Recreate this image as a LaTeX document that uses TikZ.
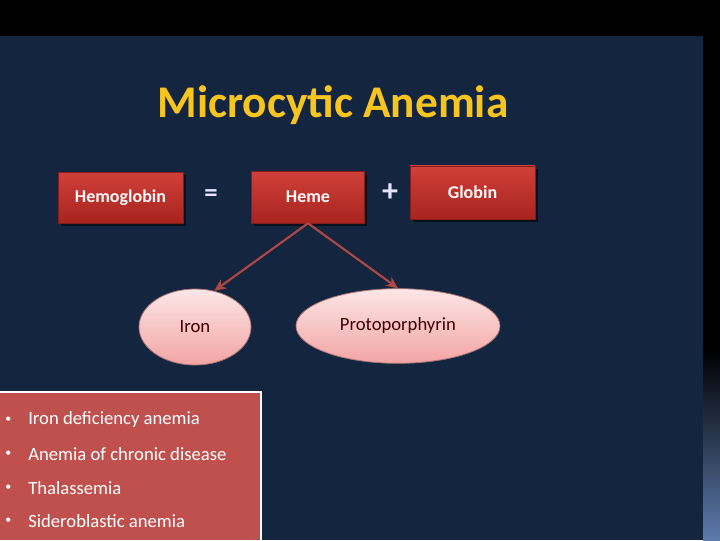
\documentclass[tikz,border=0pt]{standalone}
\usepackage{fontspec}
\setmainfont{Carlito}
\usepackage{tikz}
\usetikzlibrary{shapes.geometric,shadows,arrows.meta}
\definecolor{slide}{HTML}{14253F}
\definecolor{boxred}{HTML}{C0504D}
\definecolor{hemetop}{HTML}{D0403A}
\definecolor{hemebot}{HTML}{A8241F}
\definecolor{pinktop}{HTML}{FDE6E6}
\definecolor{pinkbot}{HTML}{F2A4A4}
\definecolor{titleyellow}{HTML}{F7C51E}

\begin{document}
\begin{tikzpicture}[x=0.75pt,y=-0.75pt,>={Stealth[length=9pt,width=8pt]}]
 \tikzstyle{redbox} = [draw=hemebot!80!black,line width=0.4pt,top color=hemetop,bottom color=hemebot,
   drop shadow={shadow xshift=2pt,shadow yshift=-2pt,fill=black,opacity=0.55},
   text=white!90!pink,font=\bfseries\fontsize{13.5}{15}\selectfont,inner sep=0pt]
 \tikzstyle{pinkoval} = [ellipse,draw=pinkbot!70!black,line width=0.6pt,top color=pinktop,bottom color=pinkbot,
   text=black!75!red,font=\fontsize{14}{16}\selectfont,inner sep=0pt]
 \tikzstyle{bulletline} = [anchor=west,text=white,font=\fontsize{14}{16}\selectfont,inner sep=0pt]
 \tikzstyle{arrowline} = [->,draw=boxred!90!black,line width=1.6pt]

% Background
 \useasboundingbox (0,0) rectangle (720,540);
 \fill[black] (0,0) rectangle (720,540);
 \fill[slide] (0,36) rectangle (703,540);
 \shade[top color=black,bottom color={rgb,255:red,92;green,122;blue,172}] (703,350) rectangle (720,540);

% Title
 \node[text=titleyellow,font=\bfseries\fontsize{34}{38}\selectfont] (title) at (333,105) {Microcytic Anemia};

% Top row
 \node[redbox,minimum width=93.75pt,minimum height=38pt] (hemoglobin) at (120.5,197.5) {Hemoglobin};
 \node[text=white!90!blue,font=\bfseries\fontsize{20}{22}\selectfont] (equals) at (211,196) {=};
 \node[redbox,minimum width=84.75pt,minimum height=39pt] (heme) at (308,197) {Heme};
 \node[text=white!90!blue,font=\bfseries\fontsize{24}{26}\selectfont] (plus) at (390,193) {+};
 \node[redbox,minimum width=93.75pt,minimum height=40pt] (globin) at (472.5,192.5) {Globin};

% Ovals
 \node[pinkoval,minimum width=84pt,minimum height=57pt] (iron) at (195,327) {Iron};
 \node[pinkoval,minimum width=153pt,minimum height=56pt] (proto) at (398,326) {Protoporphyrin};

 \draw[arrowline] (heme.south) -- (iron.62);
 \draw[arrowline] (heme.south) -- (proto.north);

% List
 \fill[boxred] (0,391) rectangle (262,540);
 \draw[white,line width=1.5pt] (0,392) -- (261,392) -- (261,541);
 \node[bulletline,font=\fontsize{9}{10}\selectfont] (b1) at (5,420) {\textbullet};
 \node[bulletline] (l1) at (28,420) {Iron deficiency anemia};
 \node[bulletline,font=\fontsize{9}{10}\selectfont] (b2) at (5,454) {\textbullet};
 \node[bulletline] (l2) at (28,454) {Anemia of chronic disease};
 \node[bulletline,font=\fontsize{9}{10}\selectfont] (b3) at (5,488) {\textbullet};
 \node[bulletline] (l3) at (28,488) {Thalassemia};
 \node[bulletline,font=\fontsize{9}{10}\selectfont] (b4) at (5,521) {\textbullet};
 \node[bulletline] (l4) at (28,521) {Sideroblastic anemia};

\end{tikzpicture}
\end{document}
